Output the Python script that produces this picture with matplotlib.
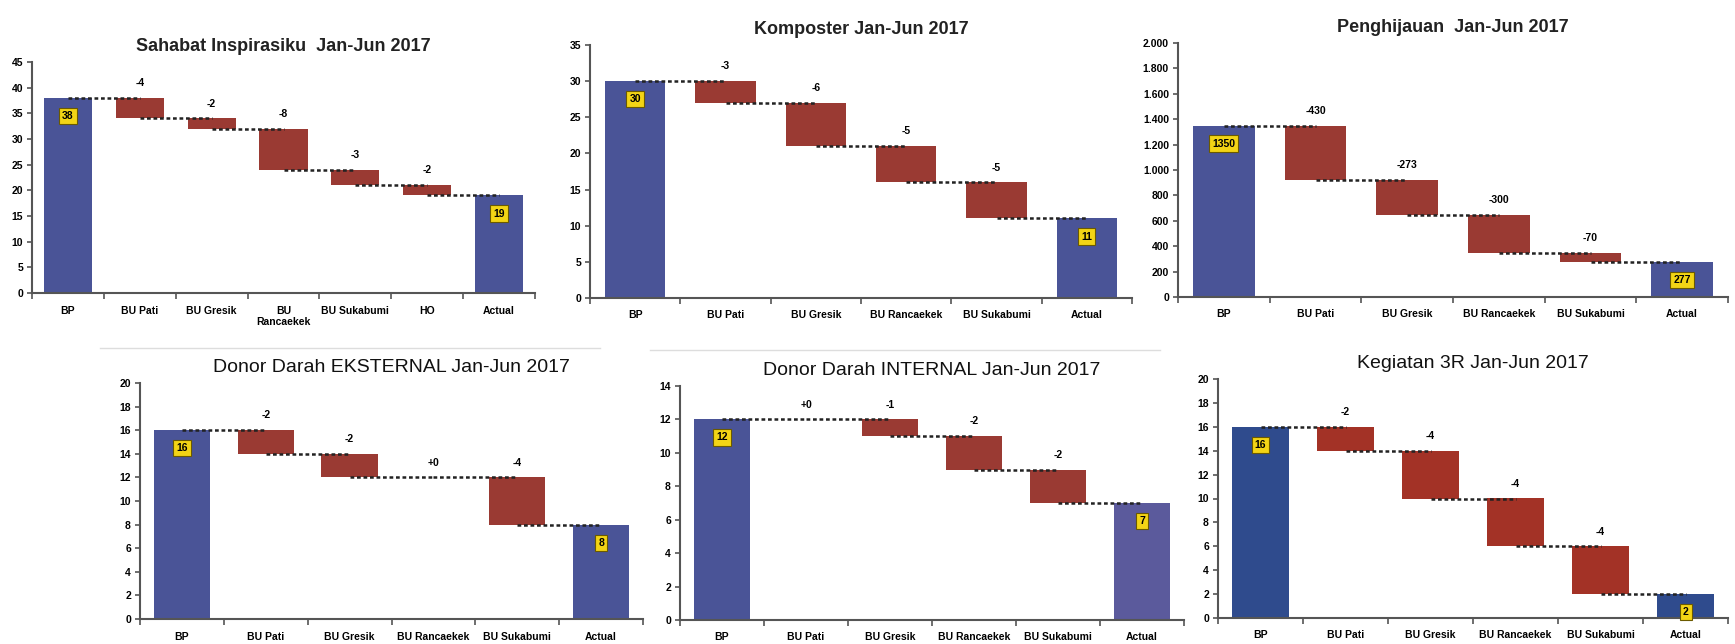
import matplotlib.pyplot as plt
from matplotlib.ticker import FuncFormatter

plt.rcParams['font.family'] = ['Liberation Sans', 'DejaVu Sans']

# ---- data ----
title1 = "Sahabat Inspirasiku  Jan-Jun 2017"
cats1 = ["BP", "BU Pati", "BU Gresik", "BU\nRancaekek", "BU Sukabumi", "HO", "Actual"]
start1 = 38
deltas1 = [-4, -2, -8, -3, -2]

title2 = "Komposter Jan-Jun 2017"
cats2 = ["BP", "BU Pati", "BU Gresik", "BU Rancaekek", "BU Sukabumi", "Actual"]
start2 = 30
deltas2 = [-3, -6, -5, -5]

title3 = "Penghijauan  Jan-Jun 2017"
cats3 = ["BP", "BU Pati", "BU Gresik", "BU Rancaekek", "BU Sukabumi", "Actual"]
start3 = 1350
deltas3 = [-430, -273, -300, -70]

title4 = "Donor Darah EKSTERNAL Jan-Jun 2017"
cats4 = ["BP", "BU Pati", "BU Gresik", "BU Rancaekek", "BU Sukabumi", "Actual"]
start4 = 16
deltas4 = [-2, -2, 0, -4]

title5 = "Donor Darah INTERNAL Jan-Jun 2017"
cats5 = ["BP", "BU Pati", "BU Gresik", "BU Rancaekek", "BU Sukabumi", "Actual"]
start5 = 12
deltas5 = [0, -1, -2, -2]

title6 = "Kegiatan 3R Jan-Jun 2017"
cats6 = ["BP", "BU Pati", "BU Gresik", "BU Rancaekek", "BU Sukabumi", "Actual"]
start6 = 16
deltas6 = [-2, -4, -4, -4]

BLUE = '#4a5497'
RED = '#9a3a33'
YELLOW = '#f3d415'


def waterfall(ax, title, cats, start, deltas, ymax, ystep, blue=BLUE, red=RED,
              end_blue=None, thousands=False, title_bold=False):
    n = len(cats)
    w = 0.67
    end = start + sum(deltas)
    # total bars
    ax.bar(0, start, width=w, color=blue, zorder=2)
    ax.bar(n - 1, end, width=w, color=end_blue or blue, zorder=2)
    # delta bars + connectors
    level = start
    for i, d in enumerate(deltas, start=1):
        new = level + d
        ax.plot([i - 1, i], [level, level], color='#222222', lw=1.8,
                ls=(0, (1.5, 1.1)), zorder=3)
        if d != 0:
            ax.bar(i, -d, bottom=new, width=w, color=red, zorder=2)
        lab = "+0" if d == 0 else str(d)
        ax.annotate(lab, (i, max(level, new)), xytext=(0, 7), textcoords='offset points',
                    ha='center', va='bottom', fontsize=7.5, fontweight='bold')
        level = new
    ax.plot([n - 2, n - 1], [level, level], color='#222222', lw=1.8,
            ls=(0, (1.5, 1.1)), zorder=3)
    # yellow value boxes
    box = dict(boxstyle='square,pad=0.3', fc=YELLOW, ec='#6b5a00', lw=0.8)
    for x, v in [(0, start), (n - 1, end)]:
        ax.annotate(str(v), (x, v), xytext=(0, -13), textcoords='offset points',
                    ha='center', va='center', fontsize=7.5, fontweight='bold', bbox=box, zorder=4)

    ax.set_xlim(-0.5, n - 0.5)
    ax.set_ylim(0, ymax)
    ax.set_yticks(range(0, ymax + 1, ystep))
    if thousands:
        ax.yaxis.set_major_formatter(FuncFormatter(lambda v, p: f"{int(v):,}".replace(",", ".")))
    ax.set_xticks(range(n))
    ax.set_xticklabels(cats, fontsize=7.5, fontweight='bold')
    ax.set_xticks([k - 0.5 for k in range(n + 1)], minor=True)
    ax.tick_params(axis='x', which='major', length=0, pad=9)
    ax.tick_params(axis='x', which='minor', length=4, width=1.2, color='#555555', direction='out')
    ax.tick_params(axis='y', length=3.5, width=1.2, color='#555555', labelsize=7.5, pad=3)
    for lab in ax.get_yticklabels():
        lab.set_fontweight('bold')
    for s in ['top', 'right']:
        ax.spines[s].set_visible(False)
    for s in ['left', 'bottom']:
        ax.spines[s].set_color('#555555')
        ax.spines[s].set_linewidth(1.5)
    if title_bold:
        ax.set_title(title, fontsize=13, fontweight='bold', color='#222222', pad=8)
    else:
        ax.set_title(title, fontsize=14, color='#111111', pad=8)


W, H = 1735, 644
fig = plt.figure(figsize=(W / 100, H / 100), dpi=100)


def axes_px(x0, x1, y0, y1):
    return fig.add_axes([x0 / W, 1 - y1 / H, (x1 - x0) / W, (y1 - y0) / H])


ax1 = axes_px(32, 535, 62, 293)
ax2 = axes_px(590, 1132, 45, 298)
ax3 = axes_px(1178, 1728, 43, 297)
ax4 = axes_px(140, 643, 383, 619)
ax5 = axes_px(680, 1184, 386, 620)
ax6 = axes_px(1218, 1728, 379, 618)

waterfall(ax1, title1, cats1, start1, deltas1, 45, 5, title_bold=True)
waterfall(ax2, title2, cats2, start2, deltas2, 35, 5, title_bold=True)
waterfall(ax3, title3, cats3, start3, deltas3, 2000, 200, thousands=True, title_bold=True)
waterfall(ax4, title4, cats4, start4, deltas4, 20, 2)
waterfall(ax5, title5, cats5, start5, deltas5, 14, 2, end_blue='#5b5a9c')
waterfall(ax6, title6, cats6, start6, deltas6, 20, 2, blue='#2f4b8d', red='#a33226')

# faint separators between the two rows
fig.add_artist(plt.Line2D([100 / W, 600 / W], [1 - 348 / H] * 2, color='#dddddd', lw=1))
fig.add_artist(plt.Line2D([650 / W, 1160 / W], [1 - 350 / H] * 2, color='#dddddd', lw=1))

fig.savefig('out.png', dpi=100)
